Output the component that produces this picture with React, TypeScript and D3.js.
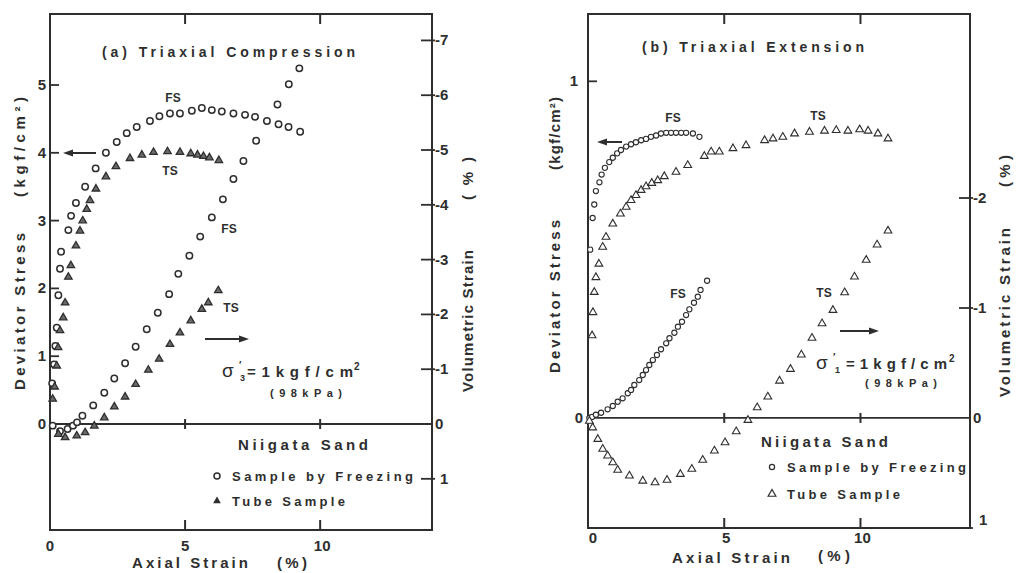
import React from 'react';
import * as d3 from 'd3';

// ---------- tick values ----------
const axialTicks = [0, 5, 10];
const stressTicksA = [0, 1, 2, 3, 4, 5];
const volTicksA = [-7, -6, -5, -4, -3, -2, -1, 0, 1];
const stressTicksB = [0, 1];
const volTicksB = [-2, -1, 0, 1];

// ---------- (a) Triaxial Compression ----------
const aStressFS: [number, number][] = [
  [0.08, 0.6], [0.15, 0.88], [0.2, 1.15], [0.25, 1.42], [0.31, 1.9], [0.37, 2.29], [0.41, 2.54],
  [0.68, 2.86], [0.78, 3.07], [0.96, 3.26], [1.3, 3.5], [1.69, 3.77], [2.07, 4.0], [2.47, 4.16],
  [2.84, 4.29], [3.21, 4.38], [3.7, 4.47], [4.05, 4.54], [4.44, 4.58], [4.81, 4.58], [5.25, 4.62],
  [5.62, 4.66], [5.99, 4.63], [6.36, 4.61], [6.79, 4.58], [7.22, 4.56], [7.59, 4.53], [8.03, 4.47],
  [8.46, 4.42], [8.83, 4.38], [9.26, 4.31],
];
const aStressTS: [number, number][] = [
  [0.1, 0.38], [0.17, 0.56], [0.25, 0.87], [0.3, 1.14], [0.37, 1.39], [0.49, 1.58], [0.56, 1.8],
  [0.68, 2.18], [0.77, 2.35], [0.96, 2.64], [1.11, 2.86], [1.21, 3.01], [1.36, 3.18], [1.48, 3.31],
  [1.7, 3.48], [2.07, 3.66], [2.44, 3.81], [2.96, 3.93], [3.4, 3.98], [3.83, 4.02], [4.35, 4.03],
  [4.81, 4.02], [5.21, 4.0], [5.46, 3.98], [5.68, 3.96], [5.9, 3.94], [6.25, 3.9],
];
const aVolFS: [number, number][] = [
  [0.1, 0.03], [0.37, 0.13], [0.65, 0.09], [0.85, 0.03], [1.0, -0.03], [1.2, -0.15], [1.6, -0.34],
  [2.01, -0.57], [2.38, -0.83], [2.78, -1.11], [3.17, -1.41], [3.58, -1.73], [3.99, -2.03],
  [4.41, -2.37], [4.75, -2.74], [5.16, -3.07], [5.56, -3.42], [5.99, -3.77], [6.4, -4.1],
  [6.79, -4.47], [7.16, -4.8], [7.63, -5.17], [8.42, -5.83], [8.84, -6.2], [9.23, -6.49],
];
const aVolTS: [number, number][] = [
  [0.31, 0.17], [0.56, 0.23], [0.99, 0.2], [1.3, 0.14], [1.64, 0.02], [2.01, -0.13], [2.38, -0.33],
  [2.78, -0.51], [3.17, -0.74], [3.64, -1.0], [4.04, -1.2], [4.44, -1.47], [4.81, -1.68],
  [5.21, -1.9], [5.62, -2.11], [5.86, -2.23], [6.23, -2.45],
];

// ---------- (b) Triaxial Extension ----------
const bStressFS: [number, number][] = [
  [0.08, 0.5], [0.17, 0.594], [0.23, 0.634], [0.29, 0.674], [0.42, 0.7], [0.5, 0.723], [0.62, 0.743],
  [0.78, 0.76], [0.91, 0.773], [1.07, 0.786], [1.21, 0.796], [1.4, 0.806], [1.58, 0.813],
  [1.76, 0.819], [1.95, 0.825], [2.13, 0.829], [2.31, 0.835], [2.5, 0.839], [2.68, 0.845],
  [2.87, 0.847], [3.05, 0.847], [3.23, 0.847], [3.42, 0.847], [3.6, 0.847], [3.85, 0.845], [4.09, 0.835],
];
const bStressTS: [number, number][] = [
  [0.15, 0.247], [0.18, 0.316], [0.23, 0.376], [0.29, 0.42], [0.4, 0.46], [0.54, 0.51], [0.66, 0.54],
  [0.91, 0.579], [1.19, 0.609], [1.4, 0.629], [1.58, 0.649], [1.76, 0.664], [1.95, 0.679],
  [2.13, 0.69], [2.34, 0.7], [2.56, 0.708], [2.8, 0.72], [3.23, 0.733], [3.66, 0.753], [4.27, 0.78],
  [4.52, 0.793], [4.82, 0.793], [5.32, 0.803], [5.8, 0.812], [6.48, 0.827], [6.79, 0.832],
  [7.15, 0.837], [7.58, 0.847], [8.13, 0.852], [8.68, 0.855], [9.11, 0.857], [9.54, 0.855],
  [9.97, 0.859], [10.28, 0.855], [10.64, 0.847], [11.01, 0.832],
];
const bVolFS: [number, number][] = [
  [0.05, 0.0], [0.15, -0.01], [0.29, -0.03], [0.48, -0.048], [0.72, -0.079], [0.91, -0.109],
  [1.09, -0.148], [1.27, -0.179], [1.46, -0.225], [1.58, -0.255], [1.7, -0.3], [1.88, -0.345],
  [2.01, -0.391], [2.13, -0.436], [2.25, -0.482], [2.38, -0.527], [2.53, -0.573], [2.68, -0.625],
  [2.87, -0.679], [2.99, -0.725], [3.17, -0.775], [3.3, -0.83], [3.45, -0.875], [3.6, -0.936],
  [3.72, -0.988], [3.89, -1.048], [4.03, -1.103], [4.13, -1.164], [4.37, -1.248],
];
const bVolTS: [number, number][] = [
  [0.05, 0.02], [0.17, 0.08], [0.36, 0.185], [0.54, 0.275], [0.72, 0.336], [0.91, 0.397],
  [1.09, 0.466], [1.52, 0.518], [2.01, 0.564], [2.46, 0.579], [2.9, 0.557], [3.39, 0.503],
  [3.81, 0.457], [4.21, 0.375], [4.64, 0.291], [5.03, 0.215], [5.44, 0.115], [5.87, 0.012],
  [6.21, -0.103], [6.6, -0.2], [7.03, -0.345], [7.43, -0.452], [7.83, -0.582], [8.22, -0.734],
  [8.59, -0.866], [8.99, -0.988], [9.42, -1.148], [9.78, -1.291], [10.21, -1.443], [10.61, -1.582],
  [11.01, -1.709],
];

const INK = '#2e2e2e';
const FONT = '"Liberation Sans", Arial, sans-serif';

type TP = { x: number; y: number; w?: number; size?: number; anchor?: string; children: React.ReactNode; weight?: string };
const T = ({ x, y, w, size = 14, anchor = 'start', children, weight = 'bold' }: TP) => (
  <text x={x} y={y} fontSize={size} textAnchor={anchor} fontFamily={FONT} fontWeight={weight} fill={INK}
    {...(w ? { textLength: w, lengthAdjust: 'spacing' } : {})}>{children}</text>
);
// vertical text reading bottom-to-top; y1 is bottom start, y2 top end
const VT = ({ x, y1, y2, size = 14, children }: { x: number; y1: number; y2: number; size?: number; children: React.ReactNode }) => (
  <text x={x} y={y1} transform={`rotate(-90 ${x} ${y1})`} fontSize={size} fontFamily={FONT} fontWeight="bold" fill={INK}
    textLength={y1 - y2} lengthAdjust="spacing">{children}</text>
);

const Arrow = ({ x1, x2, y }: { x1: number; x2: number; y: number }) => {
  const dir = Math.sign(x2 - x1);
  return (
    <g>
      <line x1={x1} x2={x2 - dir * 6} y1={y} y2={y} stroke={INK} strokeWidth={2} />
      <path d={`M${x2},${y} L${x2 - dir * 10},${y - 3.5} L${x2 - dir * 10},${y + 3.5} Z`} fill={INK} />
    </g>
  );
};

type PanelProps = {
  left: number; right: number; top: number; bottom: number; xMax: number;
  sDom: [number, number]; vDom: [number, number];
  sTicks: number[]; vTicks: number[];
  stressFS: [number, number][]; stressTS: [number, number][];
  volFS: [number, number][]; volTS: [number, number][];
  big: boolean;
};

const Panel = (p: PanelProps) => {
  const x = d3.scaleLinear().domain([0, p.xMax]).range([p.left, p.right]);
  const ys = d3.scaleLinear().domain(p.sDom).range([p.bottom, p.top]);
  const yv = d3.scaleLinear().domain(p.vDom).range([p.bottom, p.top]);
  const y0 = ys(0);
  const r = p.big ? 3.2 : 2.6;
  const tri = d3.symbol(d3.symbolTriangle, p.big ? 24 : 26)() as string;
  const circ = (d: [number, number], i: number, y: d3.ScaleLinear<number, number>) => (
    <circle key={i} cx={x(d[0])} cy={y(d[1])} r={r} fill="white" stroke={INK} strokeWidth={p.big ? 1.5 : 1.1} />
  );
  const tr = (d: [number, number], i: number, y: d3.ScaleLinear<number, number>) => (
    <path key={i} d={tri} transform={`translate(${x(d[0])},${y(d[1]) + 0.8})`}
      fill={p.big ? '#6a6a6a' : 'white'} stroke={INK} strokeWidth={p.big ? 1.3 : 1.1} />
  );
  return (
    <g>
      <rect x={p.left} y={p.top} width={p.right - p.left} height={p.bottom - p.top} fill="none" stroke={INK} strokeWidth={2} />
      <line x1={p.left} x2={p.right} y1={y0} y2={y0} stroke={INK} strokeWidth={1.8} />
      {axialTicks.filter(t => t > 0).map(t => (
        <g key={t}>
          <line x1={x(t)} x2={x(t)} y1={p.bottom} y2={p.bottom - 10} stroke={INK} strokeWidth={2} />
          <line x1={x(t)} x2={x(t)} y1={p.top} y2={p.top + 10} stroke={INK} strokeWidth={2} />
          <line x1={x(t)} x2={x(t)} y1={y0 - 5} y2={y0 + 5} stroke={INK} strokeWidth={2} />
        </g>
      ))}
      {p.sTicks.filter(t => t !== 0).map(t => (
        <line key={t} x1={p.left} x2={p.left + 9} y1={ys(t)} y2={ys(t)} stroke={INK} strokeWidth={1.8} />
      ))}
      {p.vTicks.filter(t => t !== 0).map(t => (
        <line key={t} x1={p.right - 11} x2={p.right + 3} y1={yv(t)} y2={yv(t)} stroke={INK} strokeWidth={1.8} />
      ))}
      {p.stressFS.map((d, i) => circ(d, i, ys))}
      {p.stressTS.map((d, i) => tr(d, i, ys))}
      {p.volFS.map((d, i) => circ(d, i, yv))}
      {p.volTS.map((d, i) => tr(d, i, yv))}
    </g>
  );
};

export default function App() {
  // panel geometry
  const A = { left: 50, right: 432, top: 14, bottom: 530 };
  const B = { left: 588, right: 970, top: 14, bottom: 528 };
  const aX = d3.scaleLinear().domain([0, 14.14]).range([A.left, A.right]);
  const bX = d3.scaleLinear().domain([0, 14.02]).range([B.left, B.right]);
  const aS = d3.scaleLinear().domain([-1.563, 6.047]).range([A.bottom, A.top]);
  const aV = d3.scaleLinear().domain([1.934, -7.482]).range([A.bottom, A.top]);
  const bS = d3.scaleLinear().domain([-0.327, 1.2]).range([B.bottom, B.top]);
  const bV = d3.scaleLinear().domain([1.0, -3.673]).range([B.bottom, B.top]);

  return (
    <svg width={1018} height={573} style={{ position: 'absolute', left: 0, top: 0, background: 'white' }}>
      <rect width={1018} height={573} fill="white" />
      <Panel {...A} xMax={14.14} sDom={[-1.563, 6.047]} vDom={[1.934, -7.482]}
        sTicks={stressTicksA} vTicks={volTicksA}
        stressFS={aStressFS} stressTS={aStressTS} volFS={aVolFS} volTS={aVolTS} big={true} />
      <Panel {...B} xMax={14.02} sDom={[-0.327, 1.2]} vDom={[1.0, -3.673]}
        sTicks={stressTicksB} vTicks={volTicksB}
        stressFS={bStressFS} stressTS={bStressTS} volFS={bVolFS} volTS={bVolTS} big={false} />

      {/* ---- panel (a) texts ---- */}
      <T x={102} y={57} w={253} size={14}>(a) Triaxial Compression</T>
      {stressTicksA.map(t => <T key={t} x={46} y={aS(t) + 5} anchor="end" size={15}>{t}</T>)}
      {volTicksA.map(t => <T key={t} x={t > 0 ? 440 : 435} y={aV(t) + 5} size={15}>{t < 0 ? `-${-t}` : `${t}`}</T>)}
      {axialTicks.map(t => <T key={t} x={aX(t) + (t === 10 ? 2 : 0)} y={551} anchor="middle" size={15}>{t}</T>)}
      <T x={132} y={568} w={116} size={15}>Axial Strain</T>
      <T x={277} y={568} w={30} size={15}>(%)</T>
      <VT x={25} y1={390} y2={233} size={15}>Deviator Stress</VT>
      <VT x={25} y1={197} y2={97} size={15}>(kgf/cm²)</VT>
      <VT x={473} y1={392} y2={250} size={15}>Volumetric Strain</VT>
      <VT x={473} y1={200} y2={157} size={15}>(%)</VT>
      <T x={173} y={102} anchor="middle" size={12}>FS</T>
      <T x={170} y={175} anchor="middle" size={12}>TS</T>
      <T x={229} y={233} anchor="middle" size={12}>FS</T>
      <T x={231} y={312} anchor="middle" size={12}>TS</T>
      <Arrow x1={96} x2={63} y={153} />
      <Arrow x1={205} x2={249} y={339} />
      <T x={222} y={377} size={19} weight="normal">σ</T>
      <T x={239} y={369} size={10}>′</T>
      <T x={240} y={381} size={9}>3</T>
      <T x={247} y={377} w={106} size={15}>=1kgf/cm</T>
      <T x={354} y={370} size={10}>2</T>
      <T x={270} y={397} w={72} size={11}>(98kPa)</T>
      <T x={238} y={450} w={130} size={15}>Niigata Sand</T>
      <circle cx={217} cy={476} r={3} fill="white" stroke={INK} strokeWidth={1.5} />
      <T x={232} y={481} w={181} size={13}>Sample by Freezing</T>
      <path d={d3.symbol(d3.symbolTriangle, 26)() as string} transform="translate(217,501)" fill={INK} />
      <T x={232} y={506} w={113} size={13}>Tube Sample</T>

      {/* ---- panel (b) texts ---- */}
      <T x={642} y={52} w={222} size={14}>(b) Triaxial Extension</T>
      {stressTicksB.map(t => <T key={t} x={t === 0 ? 583 : 578} y={bS(t) + 5} anchor="end" size={15}>{t}</T>)}
      {volTicksB.map(t => <T key={t} x={t > 0 ? 979 : 973} y={bV(t) + 5 - (t === 1 ? 8 : 0)} size={15}>{t < 0 ? `-${-t}` : `${t}`}</T>)}
      {axialTicks.map(t => <T key={t} x={bX(t) + (t === 0 ? 5 : 2)} y={543} anchor="middle" size={15}>{t}</T>)}
      <T x={672} y={563} w={118} size={15}>Axial Strain</T>
      <T x={818} y={561} w={32} size={15}>(%)</T>
      <VT x={560} y1={373} y2={220} size={15}>Deviator Stress</VT>
      <VT x={560} y1={170} y2={97} size={15}>(kgf/cm²)</VT>
      <VT x={1010} y1={397} y2={228} size={15}>Volumetric Strain</VT>
      <VT x={1010} y1={187} y2={155} size={15}>(%)</VT>
      <T x={673} y={122} anchor="middle" size={12}>FS</T>
      <T x={818} y={120} anchor="middle" size={12}>TS</T>
      <T x={678} y={298} anchor="middle" size={12}>FS</T>
      <T x={824} y={297} anchor="middle" size={12}>TS</T>
      <Arrow x1={622} x2={597} y={142} />
      <Arrow x1={840} x2={879} y={331} />
      <T x={816} y={369} size={19} weight="normal">σ</T>
      <T x={833} y={361} size={10}>′</T>
      <T x={835} y={373} size={9}>1</T>
      <T x={846} y={369} w={101} size={15}>=1kgf/cm</T>
      <T x={949} y={362} size={10}>2</T>
      <T x={865} y={387} w={72} size={11}>(98kPa)</T>
      <T x={761} y={447} w={127} size={15}>Niigata Sand</T>
      <circle cx={772} cy={467} r={2.6} fill="white" stroke={INK} strokeWidth={1.2} />
      <T x={787} y={472} w={179} size={13}>Sample by Freezing</T>
      <path d={d3.symbol(d3.symbolTriangle, 26)() as string} transform="translate(772,494)" fill="white" stroke={INK} strokeWidth={1.2} />
      <T x={787} y={499} w={113} size={13}>Tube Sample</T>
    </svg>
  );
}
